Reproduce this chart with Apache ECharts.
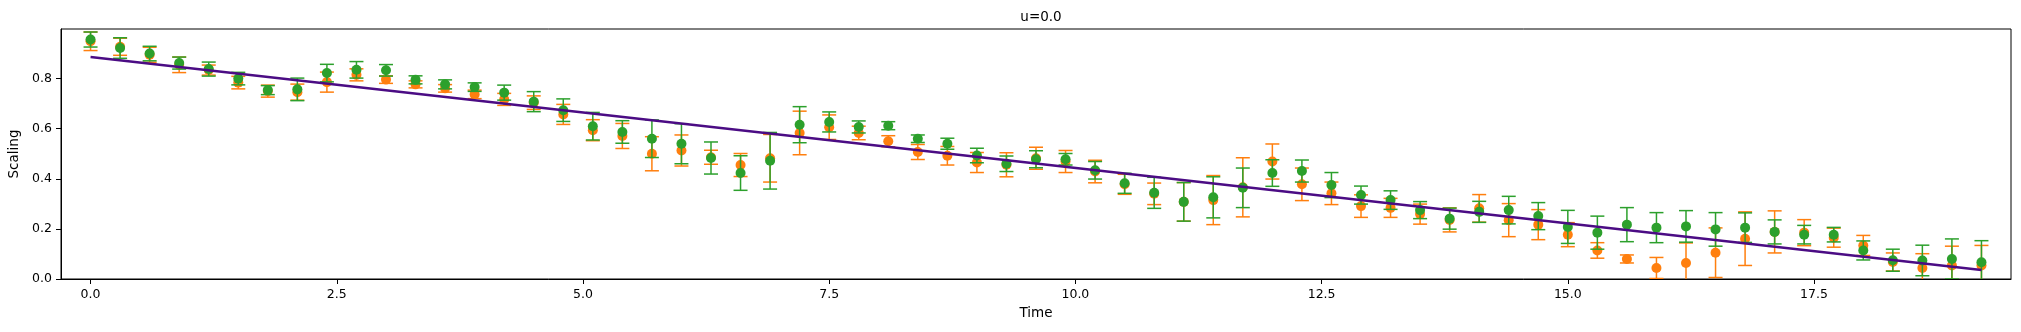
<!DOCTYPE html>
<html>
<head>
<meta charset="utf-8">
<script src="https://cdn.jsdelivr.net/npm/echarts@6/dist/echarts.min.js"></script>
<style>html,body{margin:0;padding:0;background:#fff;}#c{width:2021px;height:332px;}</style>
</head>
<body>
<div id="c"></div>
<script>
const times = [0.0,0.3,0.6,0.9,1.2,1.5,1.8,2.1,2.4,2.7,3.0,3.3,3.6,3.9,4.2,4.5,4.8,5.1,5.4,5.7,6.0,6.3,6.6,6.9,7.2,7.5,7.8,8.1,8.4,8.7,9.0,9.3,9.6,9.9,10.2,10.5,10.8,11.1,11.4,11.7,12.0,12.3,12.6,12.9,13.2,13.5,13.8,14.1,14.4,14.7,15.0,15.3,15.6,15.9,16.2,16.5,16.8,17.1,17.4,17.7,18.0,18.3,18.6,18.9,19.2];
const orangeValues = [0.949,0.927,0.895,0.855,0.834,0.784,0.750,0.746,0.786,0.815,0.796,0.777,0.761,0.737,0.717,0.704,0.657,0.594,0.571,0.500,0.513,0.486,0.455,0.482,0.583,0.606,0.583,0.550,0.507,0.492,0.465,0.456,0.482,0.469,0.429,0.378,0.340,0.308,0.315,0.366,0.469,0.378,0.342,0.291,0.284,0.259,0.236,0.282,0.235,0.217,0.177,0.114,0.080,0.044,0.064,0.105,0.161,0.188,0.185,0.165,0.134,0.068,0.044,0.054,0.054];
const orangeErrors = [0.037,0.034,0.030,0.031,0.020,0.025,0.024,0.032,0.040,0.024,0.015,0.014,0.015,0.017,0.024,0.027,0.040,0.042,0.050,0.068,0.062,0.028,0.046,0.095,0.087,0.049,0.027,0.022,0.030,0.037,0.040,0.048,0.044,0.044,0.045,0.040,0.043,0.077,0.098,0.118,0.070,0.065,0.045,0.045,0.038,0.040,0.048,0.055,0.066,0.060,0.048,0.031,0.016,0.042,0.080,0.099,0.107,0.084,0.052,0.038,0.040,0.036,0.057,0.077,0.080];
const greenValues = [0.956,0.922,0.900,0.862,0.838,0.800,0.754,0.757,0.822,0.835,0.833,0.795,0.777,0.766,0.744,0.708,0.674,0.610,0.587,0.560,0.540,0.483,0.423,0.472,0.616,0.627,0.607,0.612,0.560,0.540,0.493,0.460,0.478,0.478,0.434,0.382,0.344,0.308,0.326,0.364,0.423,0.431,0.375,0.335,0.315,0.275,0.241,0.268,0.275,0.251,0.208,0.185,0.217,0.205,0.210,0.198,0.205,0.188,0.177,0.177,0.114,0.075,0.074,0.080,0.067];
const greenErrors = [0.030,0.041,0.029,0.024,0.028,0.025,0.018,0.045,0.035,0.033,0.023,0.016,0.018,0.017,0.030,0.040,0.045,0.055,0.045,0.075,0.080,0.064,0.069,0.113,0.072,0.040,0.024,0.016,0.015,0.022,0.029,0.031,0.034,0.023,0.035,0.040,0.062,0.077,0.082,0.079,0.053,0.044,0.050,0.036,0.037,0.034,0.042,0.042,0.055,0.054,0.066,0.066,0.068,0.060,0.063,0.067,0.059,0.048,0.037,0.029,0.038,0.044,0.061,0.080,0.086];
const fitTimes = [0.0, 19.2];
const fitValues = [0.886, 0.036];
const xTickValues = [0.0, 2.5, 5.0, 7.5, 10.0, 12.5, 15.0, 17.5];
const yTickValues = [0.0, 0.2, 0.4, 0.6, 0.8];

const ORANGE = '#ff7f0e', GREEN = '#2ca02c', FIT = '#4b0c84';
const FONT = 'DejaVu Sans';

function errBar(color) {
  return function (params, api) {
    const x = api.value(0), y = api.value(1), e = api.value(2);
    const top = api.coord([x, y + e]);
    const bot = api.coord([x, y - e]);
    const hw = 7;
    const st = { stroke: color, lineWidth: 1.5 };
    return { type: 'group', children: [
      { type: 'line', shape: { x1: top[0], y1: top[1], x2: bot[0], y2: bot[1] }, style: st },
      { type: 'line', shape: { x1: top[0] - hw, y1: top[1], x2: top[0] + hw, y2: top[1] }, style: st },
      { type: 'line', shape: { x1: bot[0] - hw, y1: bot[1], x2: bot[0] + hw, y2: bot[1] }, style: st }
    ]};
  };
}

const chart = echarts.init(document.getElementById('c'), null, { renderer: 'canvas' });
chart.setOption({
  animation: false,
  backgroundColor: '#fff',
  title: { text: 'u=0.0', left: 1036, top: 5, textAlign: 'center',
    textStyle: { fontFamily: FONT, fontSize: 13.5, fontWeight: 'normal', color: '#000' } },
  grid: { left: 61, right: 10, top: 29, bottom: 53, containLabel: false, outerBoundsMode: 'none',
    show: true, borderColor: '#000', borderWidth: 1, backgroundColor: 'transparent' },
  xAxis: {
    type: 'value', min: -0.3, max: 19.5,
    name: 'Time', nameLocation: 'middle', nameGap: 27,
    nameTextStyle: { fontFamily: FONT, fontSize: 13.5, color: '#000' },
    axisLine: { show: true, onZero: false, lineStyle: { color: '#000', width: 1 } },
    axisTick: { show: true, inside: false, length: 5, lineStyle: { color: '#000' }, customValues: xTickValues },
    axisLabel: { fontFamily: FONT, fontSize: 12.5, color: '#000', margin: 9, customValues: xTickValues,
      formatter: v => v.toFixed(1) },
    splitLine: { show: false }
  },
  yAxis: {
    type: 'value', min: 0, max: 0.998,
    name: 'Scaling', nameLocation: 'middle', nameGap: 35, nameRotate: 90,
    nameTextStyle: { fontFamily: FONT, fontSize: 13.5, color: '#000' },
    axisLine: { show: true, onZero: false, lineStyle: { color: '#000', width: 1 } },
    axisTick: { show: true, inside: false, length: 5, lineStyle: { color: '#000' }, customValues: yTickValues },
    axisLabel: { fontFamily: FONT, fontSize: 12.5, color: '#000', margin: 9, customValues: yTickValues,
      formatter: v => v.toFixed(1) },
    splitLine: { show: false }
  },
  series: [
    { type: 'custom', z: 1, clip: true, renderItem: errBar(ORANGE), encode: { x: 0, y: 1 },
      data: times.map((t, i) => [t, orangeValues[i], orangeErrors[i]]) },
    { type: 'scatter', z: 2, symbol: 'circle', symbolSize: 10, itemStyle: { color: ORANGE, opacity: 1 },
      data: times.map((t, i) => [t, orangeValues[i]]) },
    { type: 'custom', z: 3, clip: true, renderItem: errBar(GREEN), encode: { x: 0, y: 1 },
      data: times.map((t, i) => [t, greenValues[i], greenErrors[i]]) },
    { type: 'scatter', z: 4, symbol: 'circle', symbolSize: 10, itemStyle: { color: GREEN, opacity: 1 },
      data: times.map((t, i) => [t, greenValues[i]]) },
    { type: 'line', z: 5, symbol: 'none', lineStyle: { color: FIT, width: 2.5 },
      data: fitTimes.map((t, i) => [t, fitValues[i]]) }
  ]
});
</script>
</body>
</html>
